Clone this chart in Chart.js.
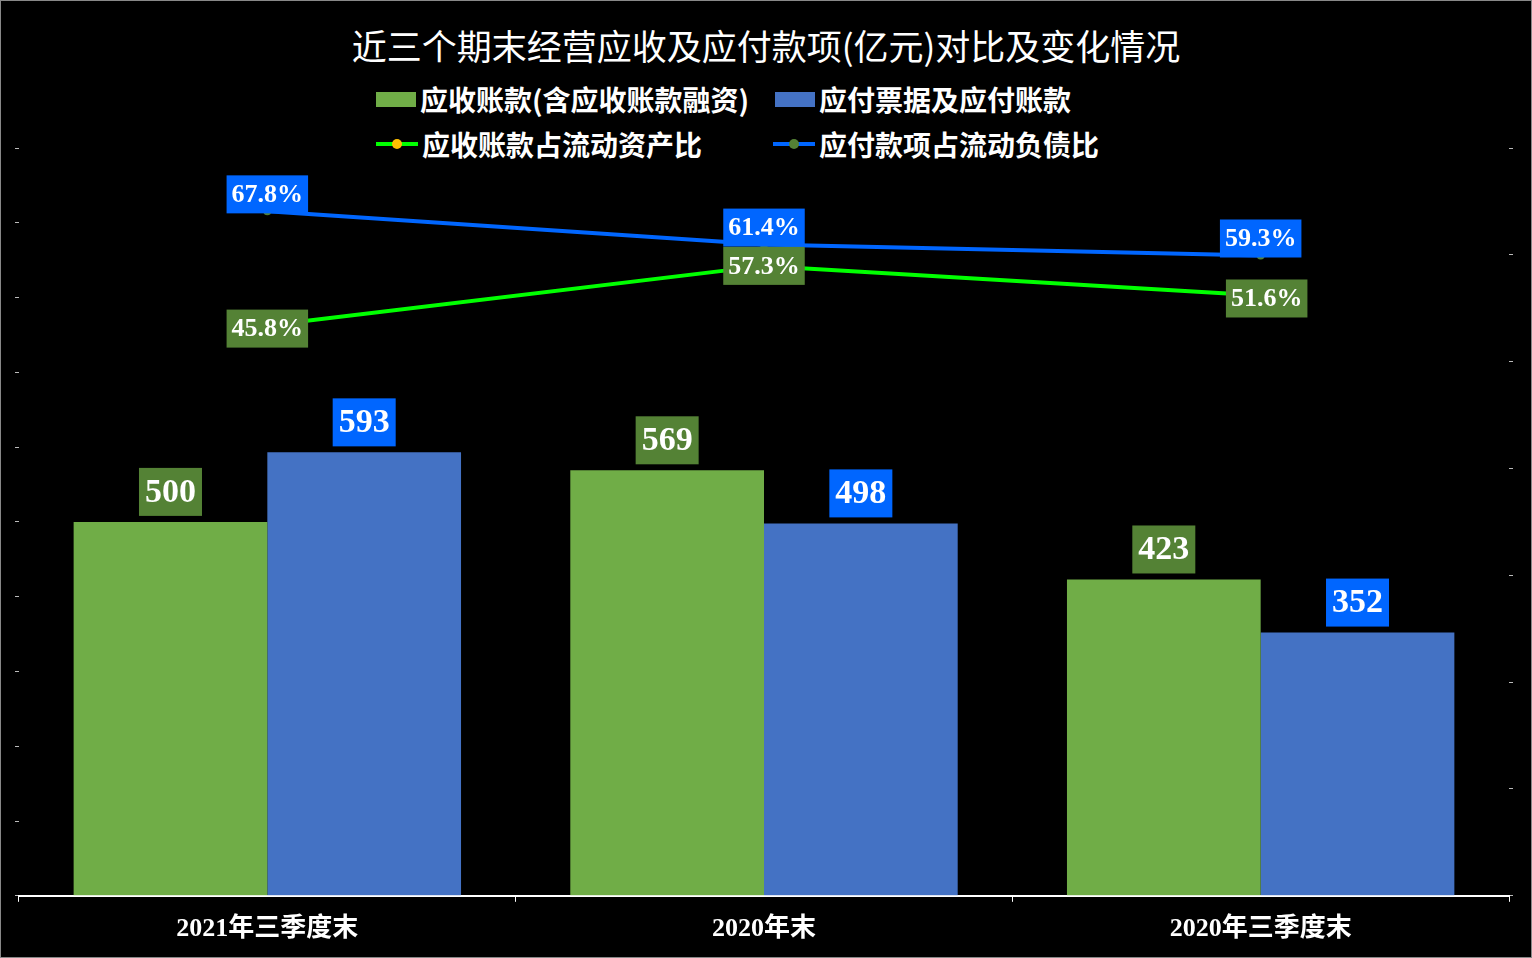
<!DOCTYPE html>
<html><head><meta charset="utf-8">
<script src="https://cdn.jsdelivr.net/npm/chart.js@4"></script>
<style>
html,body{margin:0;background:#000;}
#wrap{position:relative;width:1530px;height:956px;border:1px solid #888;background:#000;}
#title{position:absolute;top:18px;left:0;width:100%;text-align:center;color:#fff;font:35px "Noto Sans CJK SC";}
.lg{position:absolute;color:#fff;font:bold 28px "Noto Sans CJK SC";display:flex;align-items:center;}
.sw{display:inline-block;width:40px;height:15px;margin-right:4px;}
.ln{display:inline-block;width:42px;height:4px;margin-right:4px;position:relative;}
.ln i{position:absolute;left:16px;top:-3px;width:10px;height:10px;border-radius:50%;}
</style></head>
<body><div id="wrap">
<div id="title">近三个期末经营应收及应付款项(亿元)对比及变化情况</div>
<div class="lg" style="left:375px;top:78px"><span class="sw" style="background:#70ad47"></span>应收账款(含应收账款融资)</div>
<div class="lg" style="left:774px;top:78px"><span class="sw" style="background:#4472c4"></span>应付票据及应付账款</div>
<div class="lg" style="left:375px;top:123px"><span class="ln" style="background:#00ff00"><i style="background:#ffc000"></i></span>应收账款占流动资产比</div>
<div class="lg" style="left:772px;top:123px"><span class="ln" style="background:#0066ff"><i style="background:#548235"></i></span>应付款项占流动负债比</div>
<canvas id="c" width="1530" height="956" style="position:absolute;left:0;top:0;width:1530px;height:956px"></canvas>
</div>
<script>
const categories = ['2021年三季度末', '2020年末', '2020年三季度末'];
const receivables = [500, 569, 423];
const payables = [593, 498, 352];
const recvRatio = [45.8, 57.3, 51.6];
const payRatio = [67.8, 61.4, 59.3];

// draws value boxes above bars and on line points
const labelPlugin = {
  id: 'labels',
  afterDatasetsDraw(chart) {
    const ctx = chart.ctx;
    chart.data.datasets.forEach((ds, i) => {
      const meta = chart.getDatasetMeta(i);
      meta.data.forEach((el, j) => {
        const v = ds.data[j];
        const isBar = ds.type === 'bar';
        const txt = isBar ? String(v) : v.toFixed(1) + '%';
        ctx.font = isBar ? 'bold 34px "Liberation Serif"' : 'bold 26px "Liberation Serif"';
        const w = ctx.measureText(txt).width + (isBar ? 12 : 10);
        const h = isBar ? 48 : 38;
        let cx = el.x, cy;
        if (isBar) cy = el.y - 6 - h / 2;
        else cy = el.y + (i === 0 ? -17 : (j === 1 ? 0 : 3));
        if (!isBar && i === 1 && j === 2) cx += 6;
        ctx.fillStyle = ds.boxColor;
        ctx.fillRect(cx - w / 2, cy - h / 2, w, h);
        ctx.fillStyle = '#fff';
        ctx.textAlign = 'center';
        ctx.textBaseline = 'middle';
        ctx.fillText(txt, cx, cy + 1);
      });
    });
  }
};

new Chart(document.getElementById('c'), {
  data: {
    labels: categories,
    datasets: [
      {type: 'line', data: payRatio, yAxisID: 'y2', borderColor: '#0066ff', borderWidth: 4,
       pointRadius: 4, pointBackgroundColor: '#548235', pointBorderWidth: 0, boxColor: '#0066ff', order: 0},
      {type: 'line', data: recvRatio, yAxisID: 'y2', borderColor: '#00ff00', borderWidth: 4,
       pointRadius: 4, pointBackgroundColor: '#ffc000', pointBorderWidth: 0, boxColor: '#548235', order: 1},
      {type: 'bar', data: receivables, yAxisID: 'y', backgroundColor: '#70ad47', boxColor: '#548235',
       categoryPercentage: 0.78, barPercentage: 1, order: 2},
      {type: 'bar', data: payables, yAxisID: 'y', backgroundColor: '#4472c4', boxColor: '#0066ff',
       categoryPercentage: 0.78, barPercentage: 1, order: 2}
    ]
  },
  options: {
    responsive: false, animation: false,
    devicePixelRatio: 1,
    layout: {padding: {left: 14, right: 18, top: 147, bottom: 0}},
    plugins: {legend: {display: false}, tooltip: {enabled: false}},
    scales: {
      x: {offset: true, border: {color: '#fff', width: 2},
          grid: {offset: true, drawOnChartArea: false, color: '#fff', tickLength: 6},
          ticks: {color: '#fff', font: {family: '"Liberation Serif", "Noto Sans CJK SC"', size: 26, weight: 'bold'}, padding: 12}},
      y: {min: 0, max: 1000, ticks: {stepSize: 100, display: false},
          border: {display: false}, grid: {drawOnChartArea: false, color: '#bbb', tickLength: 4}},
      y2: {position: 'right', min: -64, max: 80, ticks: {stepSize: 144 / 7, display: false},
           border: {display: false}, grid: {drawOnChartArea: false, color: '#bbb', tickLength: 4}}
    }
  },
  plugins: [labelPlugin]
});
</script>
</body></html>
